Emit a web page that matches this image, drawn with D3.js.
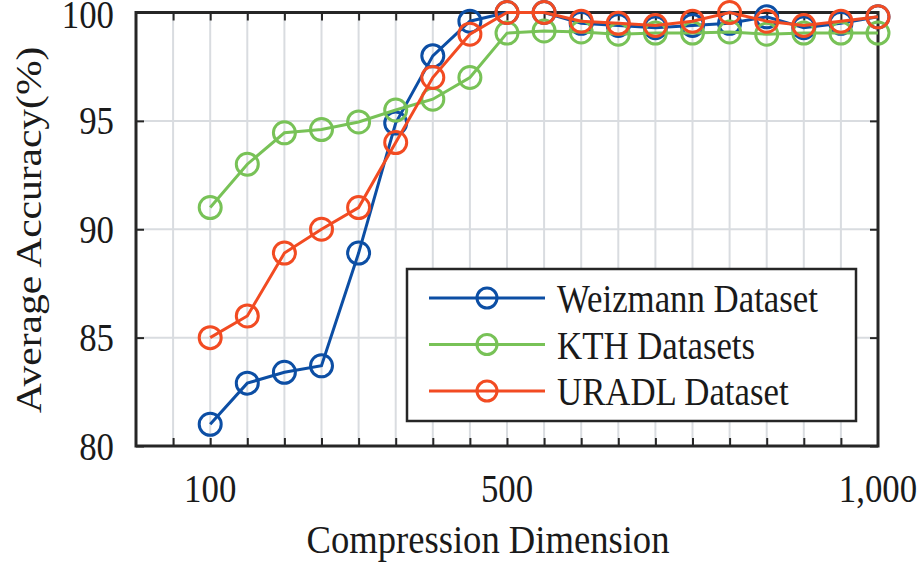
<!DOCTYPE html>
<html><head><meta charset="utf-8">
<script src="https://cdn.jsdelivr.net/npm/d3@7"></script>
<style>body{margin:0;background:#fff}svg{display:block}</style>
</head><body>
<svg id="c" width="918" height="565"></svg>
<script>
const dims = [100,150,200,250,300,350,400,450,500,550,600,650,700,750,800,850,900,950,1000];
const weizmann = [81.0,82.9,83.4,83.7,88.9,94.9,98.0,99.6,100,100,99.5,99.4,99.3,99.4,99.5,99.8,99.3,99.5,99.8];
const kth = [91.0,93.0,94.45,94.6,94.95,95.5,96.0,97.0,99.05,99.15,99.1,99.0,99.05,99.05,99.1,99.0,99.05,99.05,99.05];
const uradl = [85.0,86.0,88.9,90.0,91.0,94.0,97.0,99.0,100,100,99.6,99.5,99.4,99.6,100,99.6,99.4,99.6,99.8];
const seriesNames = ["Weizmann Dataset","KTH Datasets","URADL Dataset"];
const xTickLabels = [100,500,1000];
const yTicks = [80,85,90,95,100];
const xGrid = d3.range(50,1000,50);

const colors = ["#0c4ea4","#78c257","#f24b22"];
const series = [weizmann,kth,uradl];
const svg = d3.select("#c");
const L=136,R=878,T=12.5,B=446;
const x = d3.scaleLinear().domain([0,1000]).range([L,R]);
const y = d3.scaleLinear().domain([80,100]).range([B,T]);
const FONT = "'Liberation Serif','Times New Roman',serif";
const SX = 0.87;

function txt(g, str, tx, ty, anchor, size, sx){
  return g.append("text").attr("transform",`translate(${tx},${ty}) scale(${sx||SX},1)`)
    .attr("text-anchor",anchor).attr("font-family",FONT).attr("font-size",size||40)
    .attr("fill","#1a1a1a").text(str);
}

// grid
svg.append("g").selectAll("line").data(xGrid).join("line")
  .attr("x1",d=>x(d)).attr("x2",d=>x(d)).attr("y1",T).attr("y2",B)
  .attr("stroke","#d9dce0").attr("stroke-width",2);
svg.append("g").selectAll("line").data(yTicks.slice(1,-1)).join("line")
  .attr("y1",d=>y(d)).attr("y2",d=>y(d)).attr("x1",L).attr("x2",R)
  .attr("stroke","#d9dce0").attr("stroke-width",2);

// axes with inner ticks
const tickLen = 8;
const axB = d3.axisBottom(x).tickValues(xGrid).tickSize(-tickLen).tickFormat("");
const axT = d3.axisTop(x).tickValues(xGrid).tickSize(-tickLen).tickFormat("");
const axLf = d3.axisLeft(y).tickValues(yTicks).tickSize(-tickLen).tickFormat("");
const axRt = d3.axisRight(y).tickValues(yTicks).tickSize(-tickLen).tickFormat("");
[[axB,`translate(0,${B})`],[axT,`translate(0,${T})`],[axLf,`translate(${L},0)`],[axRt,`translate(${R},0)`]].forEach(([a,t])=>{
  const g = svg.append("g").attr("transform",t).call(a);
  g.select(".domain").remove();
  g.selectAll(".tick line").attr("stroke","#262626").attr("stroke-width",2);
});
svg.append("rect").attr("x",L).attr("y",T).attr("width",R-L).attr("height",B-T)
  .attr("fill","none").attr("stroke","#262626").attr("stroke-width",3);

// tick labels
const lab = svg.append("g");
const fmt = d3.format(",");
xTickLabels.forEach(v=>txt(lab, fmt(v), x(v), 502, "middle"));
yTicks.forEach(v=>txt(lab, v, 114, Math.max(y(v)+13.5, 27.5), "end"));

// titles
txt(svg, "Compression Dimension", 488, 553, "middle", 40, 0.915);
svg.append("text").attr("transform",`translate(41,230) rotate(-90) scale(1,${SX})`)
  .attr("text-anchor","middle").attr("font-family",FONT).attr("font-size",41.5)
  .attr("fill","#1a1a1a").text("Average Accuracy(%)");

// series
const line = d3.line().x((d,i)=>x(dims[i])).y(d=>y(d));
series.forEach((s,k)=>{
  const g = svg.append("g");
  g.append("path").attr("d",line(s)).attr("fill","none").attr("stroke",colors[k]).attr("stroke-width",3);
  g.selectAll("circle").data(s).join("circle")
    .attr("cx",(d,i)=>x(dims[i])).attr("cy",d=>y(d)).attr("r",11)
    .attr("fill","none").attr("stroke",colors[k]).attr("stroke-width",3);
});

// legend
const lg = svg.append("g");
lg.append("rect").attr("x",407).attr("y",269).attr("width",449).attr("height",152)
  .attr("fill","#fff").attr("stroke","#262626").attr("stroke-width",2.5);
const rowY = d3.scalePoint().domain(seriesNames).range([298,391]);
seriesNames.forEach((n,k)=>{
  const yy = rowY(n);
  lg.append("line").attr("x1",429).attr("x2",545).attr("y1",yy).attr("y2",yy)
    .attr("stroke",colors[k]).attr("stroke-width",3);
  lg.append("circle").attr("cx",487).attr("cy",yy).attr("r",10)
    .attr("fill","none").attr("stroke",colors[k]).attr("stroke-width",3);
  txt(lg, n, 557, yy+14, "start");
});
</script>
</body></html>
